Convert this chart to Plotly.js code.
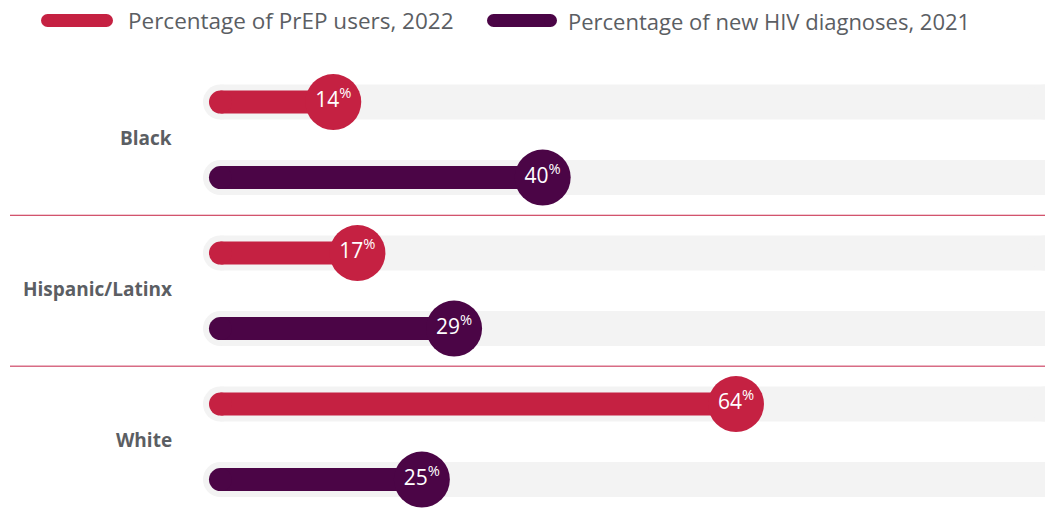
<!DOCTYPE html>
<html>
<head>
<meta charset="utf-8">
<script src="https://cdn.plot.ly/plotly-3.0.1.min.js"></script>
<style>
  html, body { margin: 0; padding: 0; background: #ffffff; }
  #chart { width: 1045px; height: 508px; }
</style>
</head>
<body>
<div id="chart"></div>
<script>
// ---- Data ----
const categories = ['Black', 'Hispanic/Latinx', 'White'];
const prepUsers2022 = [14, 17, 64];
const hivDiagnoses2021 = [40, 29, 25];
const seriesNames = ['Percentage of PrEP users, 2022', 'Percentage of new HIV diagnoses, 2021'];

// ---- Styles ----
const RED = '#c52142';
const PURPLE = '#4b0546';
const TRACK = '#f3f3f3';
const TEXT_GRAY = '#5b5e63';
const FONT = 'Open Sans, Noto Sans, sans-serif';

const X_MIN = -27.37, X_MAX = 102.36;   // axis range (px mapping)
const Y_TOP = -1.351, Y_BOTTOM = 5.377;

// row positions: PrEP row = 2g, HIV row = 2g+1
const prepRows = categories.map((c, g) => 2 * g);
const hivRows = categories.map((c, g) => 2 * g + 1);
const allRows = prepRows.concat(hivRows);

function segs(rows, ends) {
  const xs = [], ys = [];
  rows.forEach((r, i) => { xs.push(0, ends[i], null); ys.push(r, r, null); });
  return { x: xs, y: ys };
}

const trackSeg = segs(allRows, allRows.map(() => X_MAX));
const prepSeg = segs(prepRows, prepUsers2022);
const hivSeg = segs(hivRows, hivDiagnoses2021);

function label(v) {
  return v + '<sup>%</sup>';
}

const traces = [
  { // background tracks
    type: 'scatter', mode: 'lines+markers', x: trackSeg.x, y: trackSeg.y,
    line: { color: TRACK, width: 35 }, marker: { color: TRACK, size: 35 },
    hoverinfo: 'skip', showlegend: false
  },
  { // PrEP bars
    type: 'scatter', mode: 'lines+markers', x: prepSeg.x, y: prepSeg.y,
    line: { color: RED, width: 23 }, marker: { color: RED, size: 23 },
    hoverinfo: 'skip', showlegend: false
  },
  { // HIV bars
    type: 'scatter', mode: 'lines+markers', x: hivSeg.x, y: hivSeg.y,
    line: { color: PURPLE, width: 23 }, marker: { color: PURPLE, size: 23 },
    hoverinfo: 'skip', showlegend: false
  },
  { // PrEP end circles
    type: 'scatter', mode: 'markers+text', name: seriesNames[0],
    x: prepUsers2022, y: prepRows,
    marker: { color: RED, size: 56 },
    text: prepUsers2022.map(label),
    textposition: 'middle center',
    textfont: { family: FONT, size: 21, color: '#ffffff' },
    hoverinfo: 'skip', showlegend: false, cliponaxis: false
  },
  { // HIV end circles
    type: 'scatter', mode: 'markers+text', name: seriesNames[1],
    x: hivDiagnoses2021, y: hivRows,
    marker: { color: PURPLE, size: 56 },
    text: hivDiagnoses2021.map(label),
    textposition: 'middle center',
    textfont: { family: FONT, size: 21, color: '#ffffff' },
    hoverinfo: 'skip', showlegend: false, cliponaxis: false
  }
];

const W = 1045, H = 508;
const legY = 1 - 20.5 / H;
function pill(x0px, x1px, color) {
  const r = 6.5;
  return [
    { type: 'line', xref: 'paper', yref: 'paper', x0: (x0px + r) / W, x1: (x1px - r) / W, y0: legY, y1: legY,
      line: { color: color, width: 13 } },
    { type: 'circle', xref: 'paper', yref: 'paper', xsizemode: 'pixel', ysizemode: 'pixel',
      xanchor: (x0px + r) / W, yanchor: legY, x0: -r, x1: r, y0: -r, y1: r, fillcolor: color, line: { width: 0 } },
    { type: 'circle', xref: 'paper', yref: 'paper', xsizemode: 'pixel', ysizemode: 'pixel',
      xanchor: (x1px - r) / W, yanchor: legY, x0: -r, x1: r, y0: -r, y1: r, fillcolor: color, line: { width: 0 } }
  ];
}

const shapes = [
  { type: 'line', xref: 'paper', yref: 'y', x0: 10 / W, x1: 1, y0: 1.5, y1: 1.5, line: { color: RED, width: 1 } },
  { type: 'line', xref: 'paper', yref: 'y', x0: 10 / W, x1: 1, y0: 3.5, y1: 3.5, line: { color: '#d86c85', width: 1.5 } }
].concat(pill(41, 113, RED), pill(487, 557, PURPLE));

const annotations = categories.map((c, g) => ({
  xref: 'paper', yref: 'y', x: 174 / W, y: 2 * g + 0.48, xanchor: 'right', yanchor: 'middle',
  text: '<b>' + c + '</b>', showarrow: false,
  font: { family: FONT, size: 19, color: TEXT_GRAY }
})).concat([
  { xref: 'paper', yref: 'paper', x: 126 / W, y: legY, xanchor: 'left', yanchor: 'middle',
    text: seriesNames[0], showarrow: false, font: { family: FONT, size: 22.5, color: TEXT_GRAY } },
  { xref: 'paper', yref: 'paper', x: 566 / W, y: legY, xanchor: 'left', yanchor: 'middle',
    text: seriesNames[1], showarrow: false, font: { family: FONT, size: 22, color: TEXT_GRAY } }
]);

const layout = {
  width: W, height: H,
  margin: { l: 0, r: 0, t: 0, b: 0, pad: 0 },
  paper_bgcolor: '#ffffff', plot_bgcolor: '#ffffff',
  showlegend: false,
  hovermode: false,
  xaxis: { range: [X_MIN, X_MAX], showgrid: false, zeroline: false, showticklabels: false, showline: false, ticks: '', fixedrange: true },
  yaxis: { range: [Y_BOTTOM, Y_TOP], showgrid: false, zeroline: false, showticklabels: false, showline: false, ticks: '', fixedrange: true },
  shapes: shapes,
  annotations: annotations
};

Plotly.newPlot('chart', traces, layout, { displayModeBar: false, staticPlot: true });
</script>
</body>
</html>
